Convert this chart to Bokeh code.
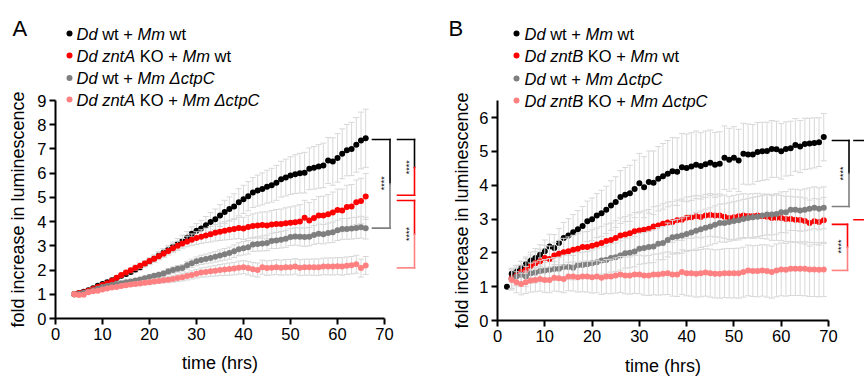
import math
from bokeh.plotting import figure
from bokeh.layouts import row
from bokeh.models import ColumnDataSource, FixedTicker, Range1d
from bokeh.core.properties import value
from bokeh.embed import file_html
from bokeh.resources import INLINE

# ------------------------------------------------------------------ data
# Panel A : hourly readings from 4 h to 66 h
A_T0 = 4
A_BLACK = [1.0, 1.05, 1.1, 1.17, 1.25, 1.35, 1.42, 1.5, 1.58, 1.67,
           1.76, 1.84, 1.92, 2.02, 2.12, 2.25, 2.36, 2.48, 2.6, 2.72,
           2.84, 2.96, 3.08, 3.2, 3.33, 3.5, 3.62, 3.72, 3.85, 3.98,
           4.1, 4.25, 4.4, 4.52, 4.62, 4.8, 4.92, 5.05, 5.2, 5.28,
           5.35, 5.44, 5.5, 5.6, 5.75, 5.82, 5.9, 5.96, 6.0, 6.02,
           6.18, 6.22, 6.28, 6.32, 6.52, 6.48, 6.63, 6.8, 6.95, 7.0,
           7.17, 7.35, 7.44]
A_RED = [1.0, 1.05, 1.08, 1.15, 1.22, 1.3, 1.38, 1.46, 1.56, 1.68,
         1.8, 1.9, 1.99, 2.1, 2.18, 2.27, 2.37, 2.47, 2.57, 2.68,
         2.79, 2.9, 3.0, 3.1, 3.18, 3.25, 3.32, 3.38, 3.43, 3.48,
         3.54, 3.58, 3.62, 3.66, 3.7, 3.74, 3.72, 3.78, 3.82, 3.84,
         3.86, 3.84, 3.88, 3.9, 3.9, 3.93, 3.95, 3.97, 4.0, 4.16,
         4.05, 4.15, 4.25, 4.25, 4.3, 4.38, 4.48, 4.46, 4.6, 4.62,
         4.8, 4.85, 5.04]
A_GRAY = [1.0, 1.02, 1.06, 1.1, 1.17, 1.23, 1.3, 1.34, 1.38, 1.42,
          1.46, 1.5, 1.53, 1.57, 1.61, 1.66, 1.71, 1.76, 1.81, 1.86,
          1.94, 2.0, 2.05, 2.08, 2.2, 2.28, 2.36, 2.42, 2.46, 2.5,
          2.55, 2.6, 2.65, 2.7, 2.78, 2.86, 2.9, 2.94, 3.06, 3.08,
          3.1, 3.12, 3.2, 3.22, 3.25, 3.29, 3.36, 3.39, 3.37, 3.36,
          3.38, 3.45, 3.5, 3.48, 3.53, 3.56, 3.64, 3.7, 3.7, 3.72,
          3.74, 3.77, 3.73]
A_PINK = [1.0, 0.97, 0.98, 1.08, 1.12, 1.15, 1.2, 1.24, 1.28, 1.3,
          1.34, 1.37, 1.4, 1.42, 1.45, 1.48, 1.5, 1.53, 1.55, 1.58,
          1.6, 1.63, 1.67, 1.7, 1.75, 1.8, 1.85, 1.9, 1.92, 1.95,
          1.97, 2.0, 2.02, 2.04, 2.06, 2.1, 2.12, 2.08, 2.03, 2.0,
          2.12, 2.08, 2.1, 2.12, 2.1, 2.12, 2.12, 2.15, 2.1, 2.12,
          2.12, 2.12, 2.12, 2.15, 2.15, 2.15, 2.16, 2.15, 2.18, 2.2,
          2.24, 2.08, 2.19]
A_BLACK_ERR = [0.02, 0.03, 0.04, 0.05, 0.05, 0.06, 0.07, 0.07, 0.08, 0.08,
               0.09, 0.1, 0.1, 0.11, 0.12, 0.13, 0.14, 0.15, 0.16, 0.17,
               0.18, 0.2, 0.22, 0.24, 0.26, 0.28, 0.3, 0.33, 0.36, 0.39,
               0.42, 0.45, 0.48, 0.5, 0.53, 0.56, 0.58, 0.6, 0.62, 0.64,
               0.66, 0.68, 0.7, 0.72, 0.74, 0.76, 0.78, 0.8, 0.82, 0.84,
               0.86, 0.88, 0.9, 0.92, 0.95, 0.98, 1.0, 1.03, 1.06, 1.1,
               1.13, 1.17, 1.2]
A_RED_ERR = [0.02, 0.03, 0.03, 0.04, 0.05, 0.05, 0.06, 0.06, 0.07, 0.08,
             0.08, 0.09, 0.1, 0.1, 0.11, 0.12, 0.13, 0.14, 0.15, 0.16,
             0.17, 0.18, 0.19, 0.2, 0.22, 0.24, 0.26, 0.28, 0.3, 0.32,
             0.34, 0.36, 0.38, 0.4, 0.42, 0.44, 0.46, 0.48, 0.5, 0.52,
             0.54, 0.56, 0.58, 0.6, 0.62, 0.64, 0.66, 0.68, 0.7, 0.72,
             0.74, 0.76, 0.78, 0.8, 0.82, 0.84, 0.86, 0.88, 0.9, 0.91,
             0.92, 0.94, 0.95]
A_GRAY_ERR = [0.01, 0.02, 0.02, 0.03, 0.03, 0.04, 0.04, 0.05, 0.05, 0.06,
              0.06, 0.07, 0.07, 0.08, 0.08, 0.09, 0.09, 0.1, 0.1, 0.11,
              0.12, 0.13, 0.14, 0.15, 0.16, 0.17, 0.18, 0.19, 0.2, 0.21,
              0.22, 0.23, 0.24, 0.25, 0.26, 0.27, 0.28, 0.28, 0.29, 0.3,
              0.31, 0.32, 0.32, 0.33, 0.34, 0.35, 0.35, 0.36, 0.37, 0.38,
              0.38, 0.39, 0.4, 0.4, 0.41, 0.42, 0.42, 0.43, 0.43, 0.44,
              0.44, 0.45, 0.45]
A_PINK_ERR = [0.01, 0.02, 0.02, 0.03, 0.03, 0.04, 0.04, 0.05, 0.05, 0.06,
              0.06, 0.07, 0.07, 0.08, 0.08, 0.09, 0.09, 0.1, 0.1, 0.11,
              0.12, 0.13, 0.14, 0.15, 0.16, 0.17, 0.18, 0.19, 0.2, 0.21,
              0.22, 0.23, 0.24, 0.25, 0.26, 0.27, 0.27, 0.28, 0.28, 0.29,
              0.29, 0.3, 0.3, 0.31, 0.31, 0.32, 0.32, 0.32, 0.33, 0.33,
              0.33, 0.34, 0.34, 0.34, 0.35, 0.35, 0.35, 0.36, 0.36, 0.36,
              0.37, 0.37, 0.37]

# Panel B : black from 2 h, the other series from 3 h, to 69 h
B_BLACK_T0 = 2
B_OTHER_T0 = 3
B_BLACK = [1.0, 1.38, 1.45, 1.55, 1.66, 1.77, 1.85, 1.94, 2.05, 2.19,
           2.14, 2.29, 2.44, 2.51, 2.61, 2.70, 2.79, 2.93, 2.99, 3.10,
           3.17, 3.27, 3.40, 3.50, 3.65, 3.72, 3.76, 3.89, 4.06, 3.94,
           4.09, 4.07, 4.19, 4.26, 4.34, 4.41, 4.40, 4.53, 4.51, 4.55,
           4.6, 4.57, 4.62, 4.66, 4.6, 4.63, 4.81, 4.75, 4.81, 4.73,
           4.93, 4.91, 4.91, 4.98, 5.0, 5.01, 5.07, 5.06, 5.0, 5.07,
           5.09, 5.19, 5.14, 5.22, 5.23, 5.25, 5.27, 5.42]
B_RED = [1.25, 1.33, 1.43, 1.50, 1.60, 1.69, 1.75, 1.85, 1.82, 1.92,
         1.97, 2.02, 2.05, 2.09, 2.12, 2.17, 2.17, 2.21, 2.25, 2.29,
         2.35, 2.38, 2.44, 2.51, 2.54, 2.58, 2.64, 2.66, 2.68, 2.71,
         2.78, 2.81, 2.86, 2.90, 2.91, 2.96, 2.98, 3.04, 3.05, 3.08,
         3.06, 3.1, 3.12, 3.1, 3.10, 3.07, 3.03, 3.05, 3.08, 3.10,
         3.09, 3.09, 3.10, 3.08, 3.07, 3.03, 3.04, 3.03, 3.0, 3.0,
         2.98, 2.97, 2.94, 2.88, 2.93, 2.91, 2.96]
B_GRAY = [1.22, 1.3, 1.35, 1.3, 1.4, 1.42, 1.46, 1.48, 1.5, 1.52,
          1.53, 1.58, 1.58, 1.56, 1.63, 1.64, 1.66, 1.69, 1.72, 1.77,
          1.79, 1.85, 1.87, 1.92, 1.99, 2.0, 2.04, 2.12, 2.14, 2.17,
          2.19, 2.27, 2.29, 2.38, 2.46, 2.48, 2.51, 2.56, 2.6, 2.65,
          2.7, 2.74, 2.78, 2.83, 2.88, 2.88, 2.91, 2.94, 2.96, 3.0,
          3.03, 3.05, 3.07, 3.10, 3.13, 3.13, 3.15, 3.20, 3.20, 3.27,
          3.27, 3.25, 3.27, 3.30, 3.33, 3.30, 3.33]
B_PINK = [1.2, 1.13, 1.08, 1.13, 1.18, 1.2, 1.23, 1.2, 1.2, 1.26,
          1.25, 1.23, 1.3, 1.3, 1.28, 1.3, 1.3, 1.28, 1.3, 1.26,
          1.3, 1.3, 1.33, 1.36, 1.33, 1.33, 1.36, 1.36, 1.33, 1.33,
          1.36, 1.36, 1.38, 1.40, 1.36, 1.36, 1.43, 1.40, 1.4, 1.38,
          1.4, 1.42, 1.4, 1.38, 1.38, 1.40, 1.40, 1.40, 1.40, 1.43,
          1.48, 1.46, 1.46, 1.48, 1.46, 1.43, 1.48, 1.51, 1.50, 1.53,
          1.53, 1.53, 1.53, 1.51, 1.51, 1.50, 1.51]
B_BLACK_ERR = [0.0, 0.15, 0.18, 0.2, 0.22, 0.25, 0.28, 0.3, 0.33, 0.36,
               0.4, 0.43, 0.46, 0.5, 0.52, 0.55, 0.58, 0.6, 0.63, 0.65,
               0.68, 0.7, 0.73, 0.75, 0.78, 0.8, 0.83, 0.85, 0.88, 0.9,
               0.92, 0.94, 0.95, 0.97, 0.98, 1.0, 1.0, 1.0, 1.0, 1.0,
               1.0, 0.98, 0.98, 0.97, 0.96, 0.95, 0.94, 0.93, 0.92, 0.92,
               0.9, 0.9, 0.88, 0.87, 0.86, 0.85, 0.84, 0.83, 0.82, 0.8,
               0.8, 0.78, 0.77, 0.76, 0.75, 0.74, 0.72, 0.7]
B_RED_ERR = [0.3, 0.3, 0.32, 0.33, 0.34, 0.35, 0.36, 0.37, 0.38, 0.39,
             0.4, 0.41, 0.42, 0.43, 0.44, 0.45, 0.46, 0.47, 0.48, 0.49,
             0.5, 0.5, 0.51, 0.52, 0.53, 0.54, 0.55, 0.55, 0.56, 0.57,
             0.58, 0.58, 0.59, 0.6, 0.6, 0.6, 0.61, 0.61, 0.62, 0.62,
             0.62, 0.63, 0.63, 0.63, 0.64, 0.64, 0.64, 0.65, 0.65, 0.65,
             0.65, 0.66, 0.66, 0.66, 0.66, 0.66, 0.67, 0.67, 0.67, 0.67,
             0.67, 0.68, 0.68, 0.68, 0.68, 0.68, 0.68]
B_GRAY_ERR = [0.28, 0.28, 0.29, 0.3, 0.3, 0.31, 0.32, 0.32, 0.33, 0.34,
              0.34, 0.35, 0.36, 0.36, 0.37, 0.38, 0.38, 0.39, 0.4, 0.4,
              0.41, 0.42, 0.42, 0.43, 0.44, 0.44, 0.45, 0.46, 0.46, 0.47,
              0.48, 0.48, 0.49, 0.5, 0.5, 0.51, 0.52, 0.52, 0.53, 0.54,
              0.54, 0.55, 0.55, 0.56, 0.56, 0.57, 0.57, 0.57, 0.58, 0.58,
              0.58, 0.59, 0.59, 0.59, 0.6, 0.6, 0.6, 0.6, 0.61, 0.61,
              0.61, 0.61, 0.62, 0.62, 0.62, 0.62, 0.62]
B_PINK_ERR = [0.3, 0.31, 0.32, 0.33, 0.34, 0.35, 0.36, 0.37, 0.38, 0.39,
              0.4, 0.41, 0.42, 0.43, 0.44, 0.45, 0.46, 0.47, 0.48, 0.49,
              0.5, 0.51, 0.52, 0.53, 0.54, 0.55, 0.56, 0.57, 0.58, 0.59,
              0.6, 0.61, 0.62, 0.63, 0.64, 0.65, 0.66, 0.67, 0.68, 0.69,
              0.7, 0.7, 0.71, 0.71, 0.72, 0.72, 0.73, 0.73, 0.74, 0.74,
              0.75, 0.75, 0.76, 0.76, 0.77, 0.77, 0.78, 0.78, 0.78, 0.79,
              0.79, 0.79, 0.8, 0.8, 0.8, 0.8, 0.8]

X_TICKS = [0, 10, 20, 30, 40, 50, 60, 70]
A_Y_TICKS = [0, 1, 2, 3, 4, 5, 6, 7, 8, 9]
B_Y_TICKS = [0, 1, 2, 3, 4, 5, 6]
X_LABEL = "time (hrs)"
Y_LABEL = "fold increase in luminescence"
STARS = "****"

A_LEGEND = [
    [("Dd", True), (" wt + ", False), ("Mm", True), (" wt", False)],
    [("Dd zntA", True), (" KO + ", False), ("Mm", True), (" wt", False)],
    [("Dd", True), (" wt + ", False), ("Mm \u0394ctpC", True)],
    [("Dd zntA", True), (" KO + ", False), ("Mm \u0394ctpC", True)],
]
B_LEGEND = [
    [("Dd", True), (" wt + ", False), ("Mm", True), (" wt", False)],
    [("Dd zntB", True), (" KO + ", False), ("Mm", True), (" wt", False)],
    [("Dd", True), (" wt + ", False), ("Mm \u0394ctpC", True)],
    [("Dd zntB", True), (" KO + ", False), ("Mm \u0394ctpC", True)],
]

# ------------------------------------------------------------------ style
FONT = "Liberation Sans"
C_BLACK = "#000000"
C_RED = "#ff0000"
C_GRAY = "#7f7f7f"
C_PINK = "#ff8080"
C_ERR = "#d8d8d8"
SERIES_COLORS = [C_BLACK, C_RED, C_GRAY, C_PINK]

FIG_TOP = 0
FIG_H = 377

ARIAL_W = {' ': 278, '+': 584, 'D': 722, 'd': 556, 'w': 722, 't': 278, 'M': 833,
           'm': 833, 'z': 500, 'n': 556, 'A': 667, 'B': 667, 'K': 667, 'O': 778,
           '\u0394': 668, 'c': 500, 'p': 556, 'C': 722}


def text_w(s, size):
    return sum(ARIAL_W.get(ch, 556) for ch in s) * size / 1000.0


def make_fig(fig_left, width, px0, sx, py0, sy):
    x0 = (fig_left - px0) / sx
    y1 = (py0 - FIG_TOP) / sy
    p = figure(width=width, height=FIG_H,
               x_range=Range1d(x0, x0 + width / sx),
               y_range=Range1d(y1 - FIG_H / sy, y1),
               output_backend="svg", toolbar_location=None, min_border=0)
    p.title.visible = False
    p.outline_line_color = None
    p.xgrid.visible = False
    p.ygrid.visible = False
    p.background_fill_color = "white"
    p.border_fill_color = "white"

    def dx(px):
        return (px - px0) / sx

    def dy(py):
        return (py0 - py) / sy
    return p, dx, dy


def style_axes(p, y_max, y_ticks):
    xa = p.xaxis[0]
    ya = p.yaxis[0]
    xa.fixed_location = 0
    ya.fixed_location = 0
    xa.bounds = (0, 70)
    ya.bounds = (0, y_max)
    xa.ticker = FixedTicker(ticks=X_TICKS)
    ya.ticker = FixedTicker(ticks=y_ticks)
    for ax in (xa, ya):
        ax.axis_line_width = 2
        ax.axis_line_color = "black"
        ax.major_tick_line_width = 2
        ax.major_tick_line_color = "black"
        ax.major_tick_in = 0
        ax.major_tick_out = 6
        ax.minor_tick_line_color = None
        ax.major_label_text_font = FONT
        ax.major_label_text_font_size = "16.5px"
        ax.major_label_text_color = "black"
        ax.major_label_standoff = 3


def draw_series(p, t0, vals, errs, color):
    n = len(vals)
    e = (list(errs) + [errs[-1]] * n)[:n]
    t = [t0 + i for i in range(n)]
    src = ColumnDataSource(dict(t=t, v=vals,
                                lo=[a - b for a, b in zip(vals, e)],
                                hi=[a + b for a, b in zip(vals, e)]))
    p.segment(x0="t", y0="lo", x1="t", y1="hi", source=src,
              line_color=C_ERR, line_width=1)
    p.scatter(x="t", y="hi", marker="dash", size=6, source=src,
              line_color=C_ERR, line_width=1)
    p.scatter(x="t", y="lo", marker="dash", size=6, source=src,
              line_color=C_ERR, line_width=1)
    p.scatter(x="t", y="v", size=6, source=src,
              fill_color=color, line_color=None)


def draw_legend(p, dx, dy, rows, marker_px, text_px, rows_py, size=16.5):
    mx, my = [], []
    parts = {True: dict(x=[], y=[], text=[], xo=[]),
             False: dict(x=[], y=[], text=[], xo=[])}
    for segs, py in zip(rows, rows_py):
        mx.append(dx(marker_px))
        my.append(dy(py))
        cum = 0.0
        for seg, ital in segs:
            lead = len(seg) - len(seg.lstrip())
            start = cum + text_w(seg[:lead], size)
            d = parts[ital]
            d["x"].append(dx(text_px))
            d["y"].append(dy(py))
            d["text"].append(seg.strip())
            d["xo"].append(start)
            cum += text_w(seg, size)
    p.scatter(x=mx, y=my, size=6, fill_color=SERIES_COLORS, line_color=None)
    for ital, d in parts.items():
        p.text(x="x", y="y", text="text", x_offset="xo",
               source=ColumnDataSource(d),
               text_font=value(FONT), text_font_size=value("%gpx" % size),
               text_font_style=value("italic" if ital else "normal"),
               text_align="left", text_baseline="middle", text_color="black")


def draw_bracket(segs, x_in, x_v, y_top, y_bot, c_top, c_bot):
    y_mid = (y_top + y_bot) / 2.0
    segs["x0"] += [x_in, x_v, x_v, x_v]
    segs["y0"] += [y_top, y_top, y_mid, y_bot]
    segs["x1"] += [x_v, x_v, x_v, x_in]
    segs["y1"] += [y_top, y_mid, y_bot, y_bot]
    segs["c"] += [c_top, c_top, c_bot, c_bot]


def finish_brackets(p, segs, stars):
    p.segment(x0="x0", y0="y0", x1="x1", y1="y1", line_color="c",
              line_width=1.6, line_cap="square", source=ColumnDataSource(segs))
    xs = [s[0] for s in stars]
    ys = [s[1] for s in stars]
    p.text(x=xs, y=ys, text=[STARS] * len(xs), angle=math.pi / 2,
           text_font=value(FONT), text_font_size=value("9px"),
           text_align="center", text_baseline="middle", text_color="black")


def draw_labels(p, dx, dy, letter, letter_px, x_label_y, y_label_px, y_label_mid):
    p.text(x=[dx(letter_px)], y=[dy(28)], text=[letter],
           text_font=value(FONT), text_font_size=value("22px"),
           text_align="left", text_baseline="alphabetic", text_color="black")
    p.text(x=[35], y=[x_label_y], text=[X_LABEL],
           text_font=value(FONT), text_font_size=value("18px"),
           text_align="center", text_baseline="middle", text_color="black")
    p.text(x=[dx(y_label_px)], y=[y_label_mid], text=[Y_LABEL], angle=math.pi / 2,
           text_font=value(FONT), text_font_size=value("18px"),
           text_align="center", text_baseline="middle", text_color="black")


# ------------------------------------------------------------------ panel A
pa, ax_, ay_ = make_fig(0, 436, 55, 329 / 70.0, 318, 218 / 9.0)
style_axes(pa, 9, A_Y_TICKS)
for vals, errs, col in [(A_BLACK, A_BLACK_ERR, C_BLACK), (A_RED, A_RED_ERR, C_RED),
                        (A_GRAY, A_GRAY_ERR, C_GRAY), (A_PINK, A_PINK_ERR, C_PINK)]:
    draw_series(pa, A_T0, vals, errs, col)
segs = dict(x0=[], y0=[], x1=[], y1=[], c=[])
bk, rd, gy, pk = A_BLACK[-1], A_RED[-1], A_GRAY[-1], A_PINK[-1]
draw_bracket(segs, ax_(372), ax_(389.5), bk - 0.05, gy, C_BLACK, C_GRAY)
draw_bracket(segs, ax_(397), ax_(414), bk - 0.05, rd + 0.05, C_BLACK, C_RED)
draw_bracket(segs, ax_(397), ax_(414), rd - 0.17, pk - 0.1, C_RED, C_PINK)
finish_brackets(pa, segs, [(ax_(383.5), (bk + gy) / 2.0),
                           (ax_(408), (bk + rd) / 2.0),
                           (ax_(408), (rd + pk) / 2.0 - 0.13)])
draw_legend(pa, ax_, ay_, A_LEGEND, 69, 76, [33, 55, 77.5, 99])
draw_labels(pa, ax_, ay_, "A", 12, ay_(362), 17, 4.5)

# ------------------------------------------------------------------ panel B
pb, bx_, by_ = make_fig(436, 428, 497, 331 / 70.0, 320, 203 / 6.0)
style_axes(pb, 6.5, B_Y_TICKS)
draw_series(pb, B_BLACK_T0, B_BLACK, B_BLACK_ERR, C_BLACK)
draw_series(pb, B_OTHER_T0, B_RED, B_RED_ERR, C_RED)
draw_series(pb, B_OTHER_T0, B_GRAY, B_GRAY_ERR, C_GRAY)
draw_series(pb, B_OTHER_T0, B_PINK, B_PINK_ERR, C_PINK)
segs = dict(x0=[], y0=[], x1=[], y1=[], c=[])
bk, rd, gy, pk = B_BLACK[-1], B_RED[-1], B_GRAY[-1], B_PINK[-1]
draw_bracket(segs, bx_(832), bx_(848.5), bk - 0.1, gy + 0.04, C_BLACK, C_GRAY)
draw_bracket(segs, bx_(853.5), bx_(880), bk - 0.1, rd + 0.02, C_BLACK, C_RED)
draw_bracket(segs, bx_(832), bx_(847), rd - 0.12, pk - 0.03, C_RED, C_PINK)
finish_brackets(pb, segs, [(bx_(842), (bk + gy) / 2.0 - 0.03),
                           (bx_(840), (rd + pk) / 2.0 - 0.05)])
draw_legend(pb, bx_, by_, B_LEGEND, 516, 524, [33, 55, 78, 100])
draw_labels(pb, bx_, by_, "B", 448, by_(365), 461, 3.25)

layout = row(pa, pb, spacing=0)
open("out.html", "w").write(file_html(layout, INLINE))
